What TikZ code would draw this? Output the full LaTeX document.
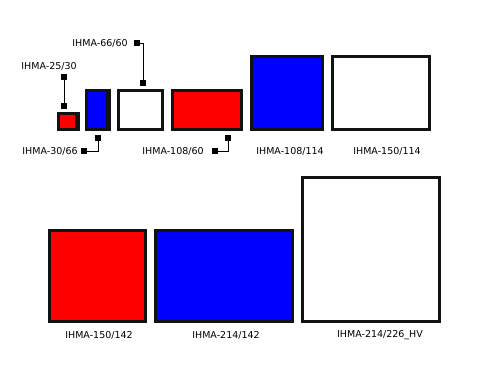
\documentclass[tikz,border=0pt]{standalone}
\usepackage{fontspec}
\setmainfont{DejaVu Sans}
\begin{document}
\begin{tikzpicture}[x=1pt,y=-1pt,
  box/.style={draw=black!93, line width=3pt},
  lbl/.style={font=\fontsize{9.5}{11}\selectfont, inner sep=0pt},
  pin/.style={fill=black, minimum size=5.5pt, inner sep=0pt},
  lead/.style={black, line width=1pt}]
  \useasboundingbox (0,0) rectangle (490,370);
  % top row of profiles
  \draw[box, fill=red] (58.5,113.5) rectangle (77.5,129.5);
  \fill[black!93] (75,112) rectangle (79.5,131);
  \draw[box, fill=blue] (86.5,90.5) rectangle (108.5,129.5);
  \fill[black!93] (106,89) rectangle (110.5,131);
  \draw[box, fill=white] (118.5,90.5) rectangle (162.5,129.5);
  \draw[box, fill=red] (172.5,90.5) rectangle (241.5,129.5);
  \draw[box, fill=blue] (251.5,56.5) rectangle (322.5,129.5);
  \draw[box, fill=white] (332.5,56.5) rectangle (429.5,129.5);
  % bottom row of profiles
  \draw[box, fill=red] (49.5,230.5) rectangle (145.5,321.5);
  \draw[box, fill=blue] (155.5,230.5) rectangle (292.5,321.5);
  \draw[box, fill=white] (302.5,177.5) rectangle (439.5,321.5);
  % labels under the boxes
  \node[lbl] (l108114) at (290,151) {IHMA-108/114};
  \node[lbl] (l150114) at (387,151) {IHMA-150/114};
  \node[lbl] (l150142) at (99,335) {IHMA-150/142};
  \node[lbl] (l214142) at (226,335) {IHMA-214/142};
  \node[lbl] (l214226) at (380,335) {IHMA-214/226\_HV};
  % callouts
  \node[lbl] (l2530) at (49,66) {IHMA-25/30};
  \node[pin] (p2530a) at (64,77) {};
  \node[pin] (p2530b) at (64,106) {};
  \draw[lead] (p2530a) -- (p2530b);
  \node[lbl] (l6660) at (100,43) {IHMA-66/60};
  \node[pin] (p6660a) at (137,43) {};
  \node[pin] (p6660b) at (143,83) {};
  \draw[lead] (p6660a) -| (p6660b);
  \node[lbl] (l3066) at (50,151) {IHMA-30/66};
  \node[pin] (p3066a) at (84,151) {};
  \node[pin] (p3066b) at (98,138) {};
  \draw[lead] (p3066a) -| (p3066b);
  \node[lbl] (l10860) at (173,151) {IHMA-108/60};
  \node[pin] (p10860a) at (215,151) {};
  \node[pin] (p10860b) at (228,138) {};
  \draw[lead] (p10860a) -| (p10860b);
\end{tikzpicture}
\end{document}
